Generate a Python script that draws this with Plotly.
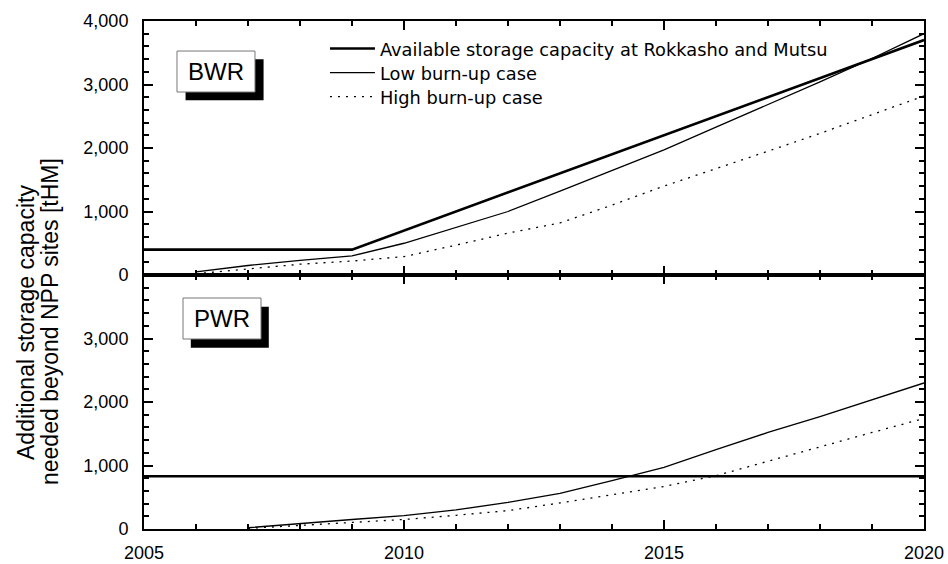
import plotly.graph_objects as go

# BWR
bwr_avail_years = [2005, 2009, 2020]
bwr_avail = [400, 400, 3700]
bwr_low_years = list(range(2006, 2021))
bwr_low = [50, 150, 230, 300, 500, 750, 1000, 1320, 1640, 1970, 2330, 2680, 3040, 3410, 3800]
bwr_high = [20, 100, 170, 220, 290, 470, 660, 820, 1100, 1400, 1670, 1950, 2230, 2520, 2820]

# PWR
pwr_avail_years = [2005, 2020]
pwr_avail = [830, 830]
pwr_years = list(range(2007, 2021))
pwr_low = [20, 90, 150, 210, 300, 420, 560, 760, 970, 1250, 1520, 1770, 2040, 2300]
pwr_high = [10, 60, 100, 150, 215, 290, 410, 540, 670, 840, 1070, 1300, 1520, 1740]

labels = ["Available storage capacity at Rokkasho and Mutsu",
          "Low burn-up case", "High burn-up case"]
y_title_lines = ["Additional storage capacity", "needed beyond NPP sites [tHM]"]

x_tickvals = [2005, 2010, 2015, 2020]
y_tickvals_pwr = [0, 1000, 2000, 3000]

BLACK = "black"
fig = go.Figure()

fig.add_trace(go.Scatter(x=bwr_avail_years, y=bwr_avail, mode="lines", name=labels[0],
                         line=dict(color=BLACK, width=2.6), xaxis="x2", yaxis="y2",
                         legend="legend"))
fig.add_trace(go.Scatter(x=bwr_low_years, y=bwr_low, mode="lines", name=labels[1],
                         line=dict(color=BLACK, width=1.3), xaxis="x2", yaxis="y2",
                         legend="legend2"))
fig.add_trace(go.Scatter(x=bwr_low_years, y=bwr_high, mode="lines", name=labels[2],
                         line=dict(color=BLACK, width=1.3, dash="2px,6px"), xaxis="x2", yaxis="y2",
                         legend="legend3"))

fig.add_trace(go.Scatter(x=pwr_avail_years, y=pwr_avail, mode="lines", showlegend=False,
                         line=dict(color=BLACK, width=2.6), xaxis="x", yaxis="y"))
fig.add_trace(go.Scatter(x=pwr_years, y=pwr_low, mode="lines", showlegend=False,
                         line=dict(color=BLACK, width=1.3), xaxis="x", yaxis="y"))
fig.add_trace(go.Scatter(x=pwr_years, y=pwr_high, mode="lines", showlegend=False,
                         line=dict(color=BLACK, width=1.3, dash="2px,6px"), xaxis="x", yaxis="y"))

FONT = "Arial, Liberation Sans, sans-serif"
tickfont = dict(family=FONT, size=18, color="black")

common_x = dict(range=[2005, 2020], ticks="inside", ticklen=9, tickwidth=1.5,
                tickcolor="black", showline=True, linecolor="black", linewidth=2, mirror="allticks",
                showgrid=False, zeroline=False, automargin=False,
                tickmode="array", tickvals=x_tickvals,
                minor=dict(tickmode="linear", dtick=1, tick0=2005, ticks="inside", ticklen=5,
                           tickwidth=1.5, tickcolor="black", showgrid=False))
common_y = dict(range=[0, 4000], ticks="inside", ticklen=9, tickwidth=1.5, tickcolor="black",
                showline=True, linecolor="black", linewidth=2, mirror="allticks",
                showgrid=False, zeroline=False, tickformat=",d", tickfont=tickfont,
                automargin=False, ticklabelstandoff=10,
                minor=dict(tickmode="linear", tick0=0, dtick=200, ticks="inside", ticklen=5,
                           tickwidth=1.5, tickcolor="black", showgrid=False))

legend_common = dict(x=0.232, xanchor="left", yanchor="middle",
                     bgcolor="rgba(0,0,0,0)", borderwidth=0,
                     font=dict(family="DejaVu Sans, sans-serif", size=17.8, color="black"),
                     itemwidth=45)

fig.update_layout(
    width=948, height=564,
    margin=dict(l=144, r=24, t=21, b=35),
    paper_bgcolor="white", plot_bgcolor="white",
    showlegend=True,
    xaxis=dict(**common_x, domain=[0, 1], anchor="y", tickfont=tickfont, ticklabelstandoff=6),
    yaxis=dict(**common_y, domain=[0, 0.5], anchor="x",
               tickmode="array", tickvals=y_tickvals_pwr),
    xaxis2=dict(**common_x, domain=[0, 1], anchor="y2", matches="x", showticklabels=False),
    yaxis2=dict(**common_y, domain=[0.5, 1], anchor="x2", dtick=1000, tick0=0),
    legend=dict(**legend_common, y=0.9449),
    legend2=dict(**legend_common, y=0.8976),
    legend3=dict(**legend_common, y=0.8504),
)

# Panel label boxes (BWR / PWR) with drop shadows
def label_box(text, bx0, bx1, by0, by1, dx, dy):
    fig.add_shape(type="rect", xref="paper", yref="paper",
                  x0=bx0 + dx, x1=bx1 + dx, y0=by0 - dy, y1=by1 - dy,
                  fillcolor="black", line=dict(width=0))
    fig.add_shape(type="rect", xref="paper", yref="paper",
                  x0=bx0, x1=bx1, y0=by0, y1=by1,
                  fillcolor="white", line=dict(color="#777777", width=1))
    fig.add_annotation(xref="paper", yref="paper", x=(bx0 + bx1) / 2, y=(by0 + by1) / 2,
                       text=text, showarrow=False, xanchor="center", yanchor="middle",
                       font=dict(family=FONT, size=24, color="black"))

label_box("BWR", 0.0423, 0.1423, 0.8602, 0.9409, 0.011, 0.016)
label_box("PWR", 0.050, 0.150, 0.374, 0.4547, 0.010, 0.017)

# Two-line y-axis title (separate annotations for tight line spacing)
for txt, xp in zip(y_title_lines, [-0.1513, -0.1205]):
    fig.add_annotation(xref="paper", yref="paper", x=xp, y=0.4075, textangle=-90,
                       text=txt, showarrow=False, xanchor="center", yanchor="middle",
                       font=dict(family=FONT, size=23, color="black"))

fig.write_html("out.html", config={"displayModeBar": False},
               post_script="document.body.style.margin='0';")
